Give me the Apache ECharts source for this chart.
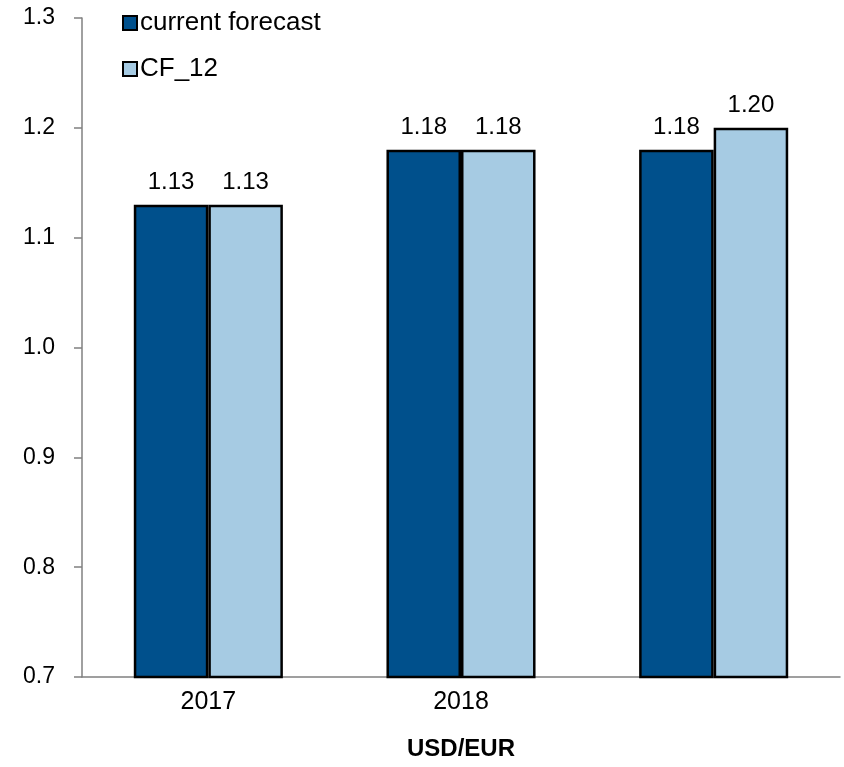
<!DOCTYPE html>
<html>
<head>
<meta charset="utf-8">
<script src="https://cdn.jsdelivr.net/npm/echarts@6/dist/echarts.min.js"></script>
<style>
html,body{margin:0;padding:0;background:#fff;}
#chart{width:844px;height:767px;}
</style>
</head>
<body>
<div id="chart"></div>
<script>
const categories = ['2017', '2018', ''];
const currentForecast = [1.13, 1.18, 1.18];
const cf12 = [1.13, 1.18, 1.20];
const seriesNames = ['current forecast', 'CF_12'];
const axisTitle = 'USD/EUR';

const FONT = 'Liberation Sans, Arial, sans-serif';
const chart = echarts.init(document.getElementById('chart'), null, {renderer: 'canvas'});
const labelCfg = {
  show: true, position: 'top', distance: 10,
  color: '#000', fontFamily: FONT, fontSize: 24,
  formatter: p => p.value.toFixed(2)
};
chart.setOption({
  animation: false,
  backgroundColor: '#fff',
  grid: {left: 82, right: 4, top: 18, bottom: 90, containLabel: false},
  legend: {
    orient: 'vertical', left: 122, top: 9, padding: 0,
    itemWidth: 14, itemHeight: 14, itemGap: 18,
    icon: 'rect',
    textStyle: {fontFamily: FONT, fontSize: 26, lineHeight: 28, color: '#000', padding: [0,0,0,-2]},
    data: seriesNames
  },
  xAxis: {
    type: 'category', data: categories,
    axisLine: {lineStyle: {color: '#808080', width: 1.5}},
    axisTick: {show: false},
    axisLabel: {color: '#000', fontFamily: FONT, fontSize: 25, margin: 13},
    name: axisTitle, nameLocation: 'middle', nameGap: 60,
    nameTextStyle: {fontFamily: FONT, fontSize: 24, fontWeight: 'bold', color: '#000'}
  },
  yAxis: {
    type: 'value', min: 0.7, max: 1.3, interval: 0.1,
    axisLine: {show: true, lineStyle: {color: '#808080', width: 1.5}},
    axisTick: {show: true, length: 8, inside: false, lineStyle: {color: '#808080', width: 1.5}},
    splitLine: {show: false},
    axisLabel: {color: '#000', fontFamily: FONT, fontSize: 23, margin: 27,
      formatter: v => v.toFixed(1)}
  },
  series: [
    {
      name: seriesNames[0], type: 'bar', data: currentForecast,
      barGap: '0%', barCategoryGap: '41%',
      itemStyle: {color: '#00508C', borderColor: '#000', borderWidth: 2.5},
      label: labelCfg
    },
    {
      name: seriesNames[1], type: 'bar', data: cf12,
      itemStyle: {color: '#A6CBE3', borderColor: '#000', borderWidth: 2.5},
      label: labelCfg
    }
  ]
});
</script>
</body>
</html>
